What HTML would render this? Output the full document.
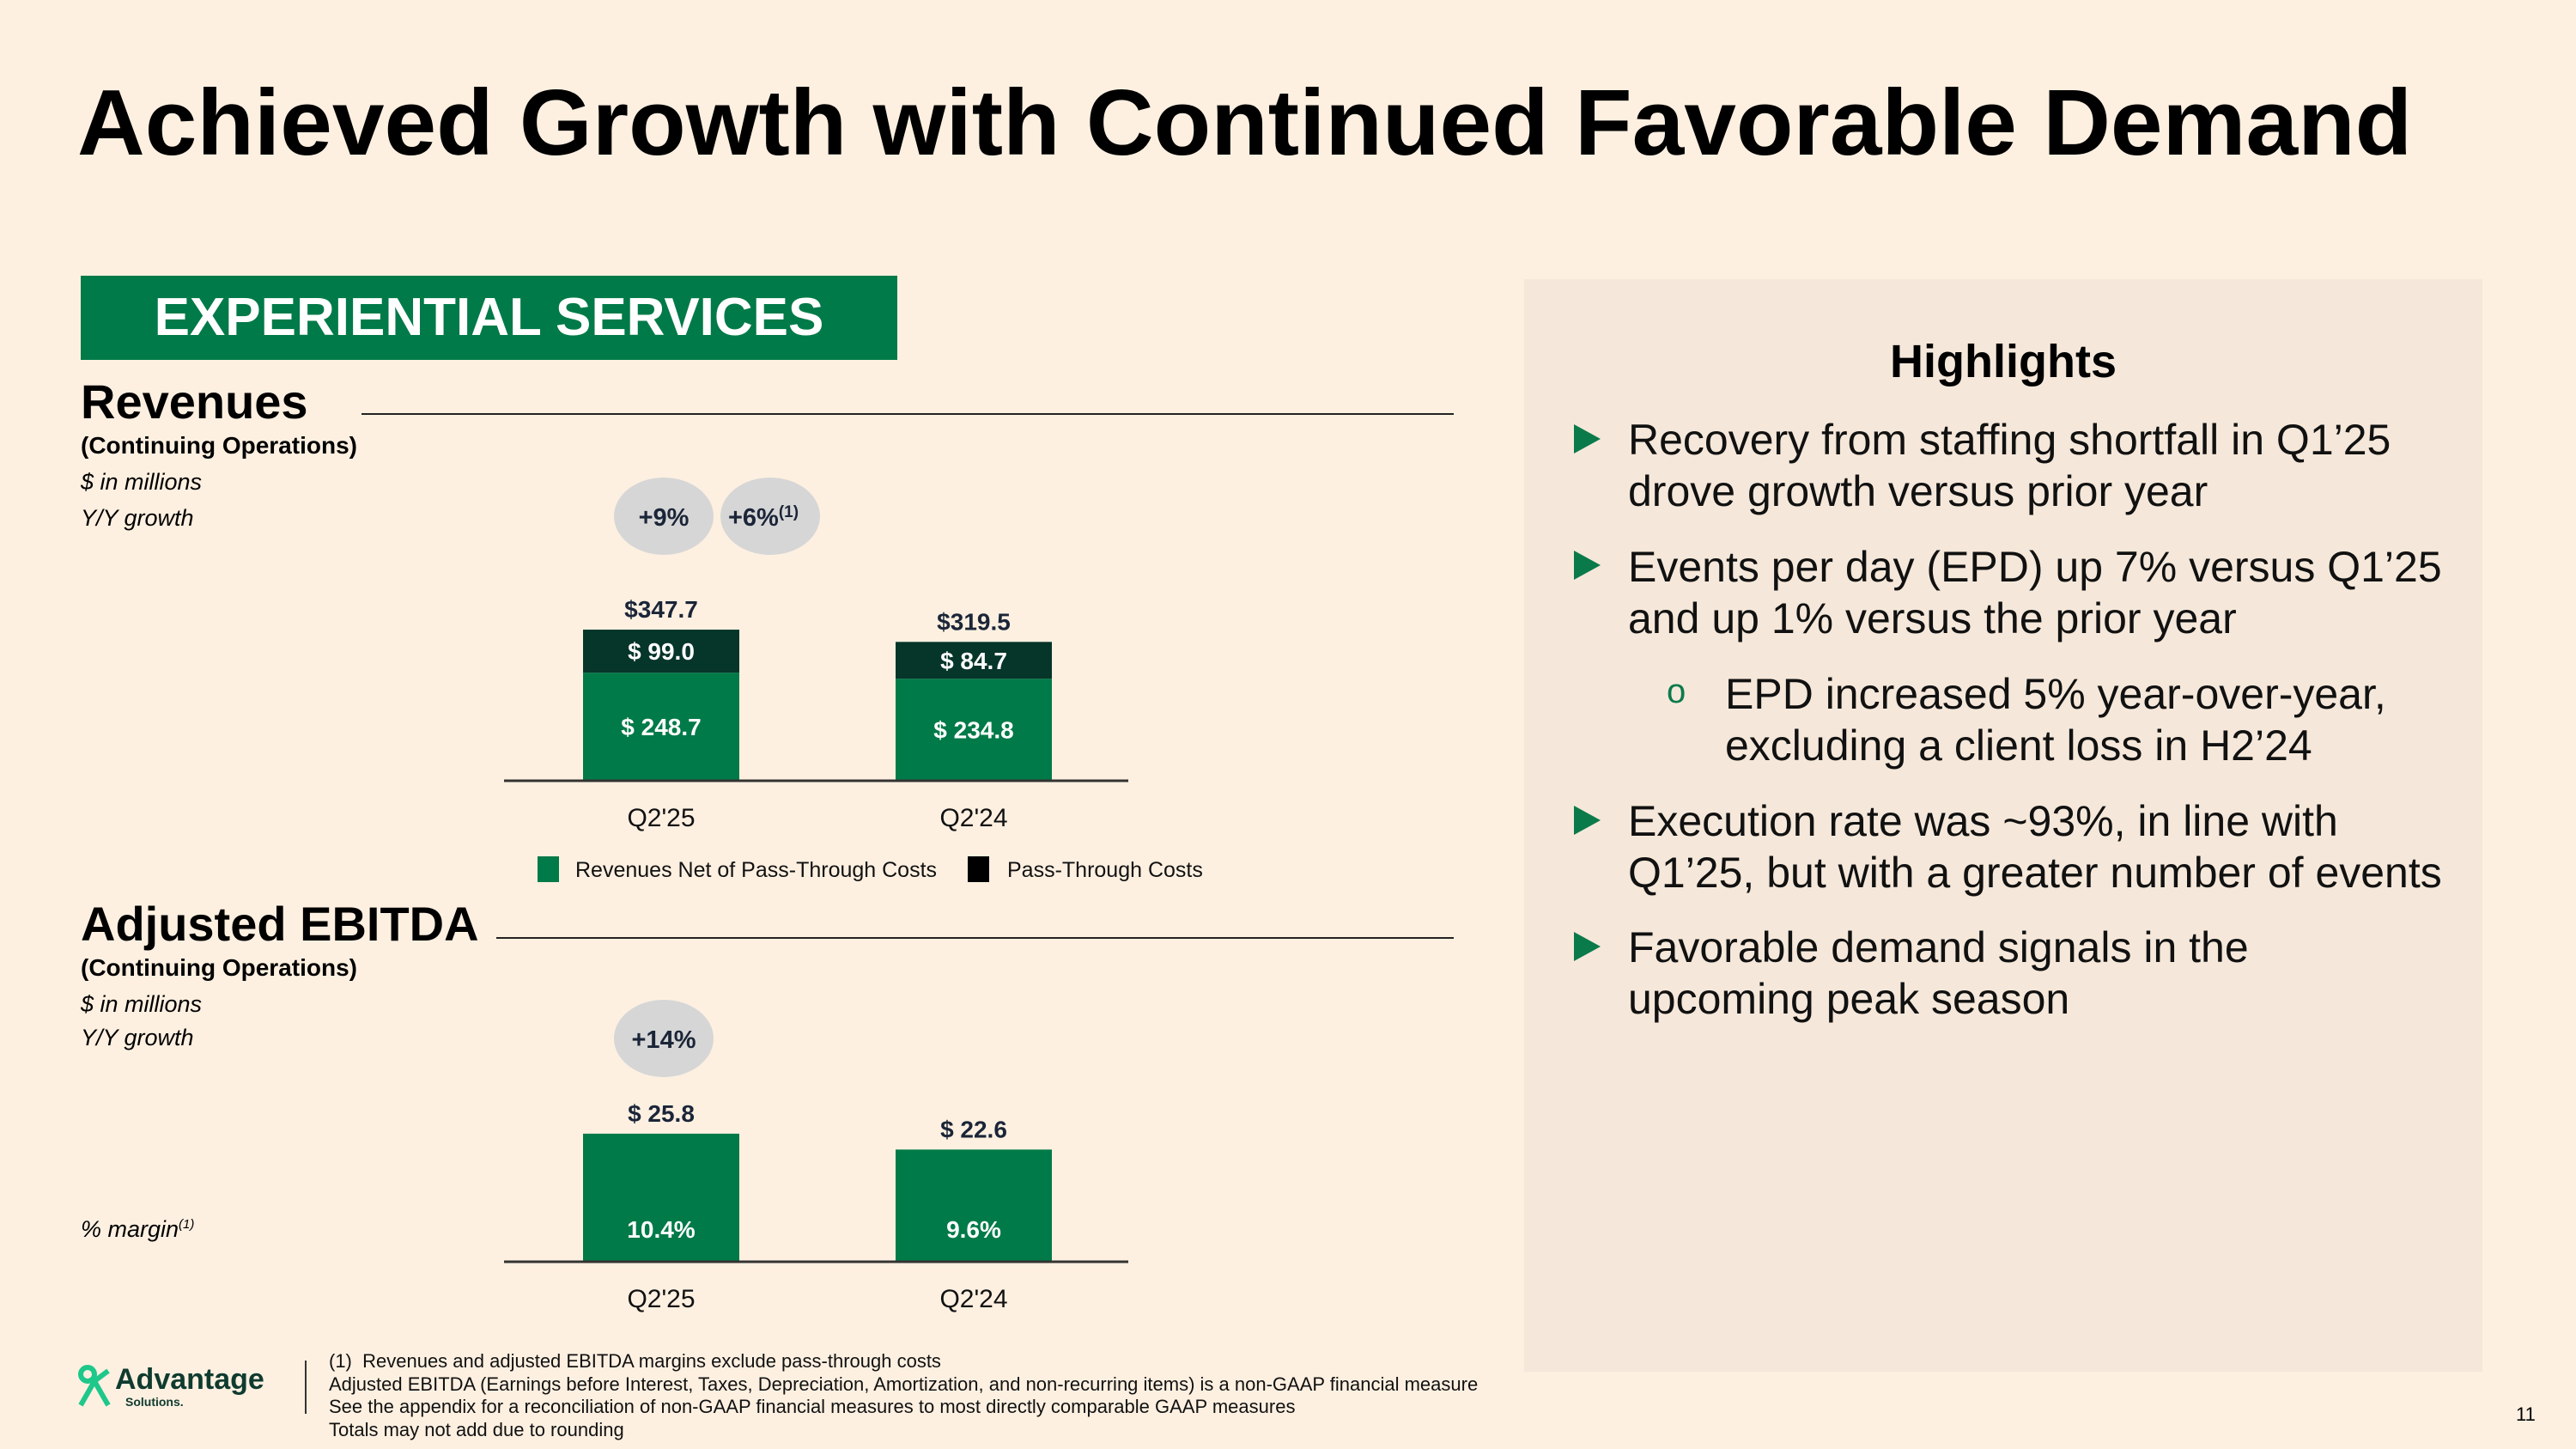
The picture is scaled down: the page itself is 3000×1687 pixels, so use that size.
<!DOCTYPE html>
<html><head><meta charset="utf-8"><style>
body{margin:0;width:3000px;height:1687px;background:#fdf0e1;font-family:"Liberation Sans",Arial,sans-serif;position:relative;overflow:hidden}
.a{position:absolute;white-space:nowrap}
.b{font-weight:bold}
.i{font-style:italic}
.hl{position:absolute;left:1896px;font-size:50px;color:#111;line-height:60px;white-space:nowrap}
.tri{position:absolute;left:1833px;width:0;height:0;border-top:17px solid transparent;border-bottom:17px solid transparent;border-left:31px solid #0b7a4b}
</style></head><body>
<div class="a b" style="left:90px;top:80px;font-size:109px;color:#000">Achieved Growth with Continued Favorable Demand</div>
<div class="a b" style="left:94px;top:321px;width:951px;height:98px;background:#007a48;color:#fff;font-size:62px;line-height:98px;text-align:center">EXPERIENTIAL SERVICES</div>

<div class="a" style="left:1775px;top:325px;width:1116px;height:1272px;background:#f5e8da"></div>
<div class="a b" style="left:1775px;width:1116px;text-align:center;top:390px;font-size:54px">Highlights</div>
<div class="tri" style="top:494px"></div><div class="hl" style="top:482px">Recovery from staffing shortfall in Q1’25<br>drove growth versus prior year</div>
<div class="tri" style="top:641px"></div><div class="hl" style="top:630px">Events per day (EPD) up 7% versus Q1’25<br>and up 1% versus the prior year</div>
<div class="a" style="left:1941px;top:783px;font-size:40px;color:#0b7a4b">o</div>
<div class="hl" style="left:2009px;top:778px">EPD increased 5% year-over-year,<br>excluding a client loss in H2’24</div>
<div class="tri" style="top:938px"></div><div class="hl" style="top:926px">Execution rate was ~93%, in line with<br>Q1’25, but with a greater number of events</div>
<div class="tri" style="top:1085px"></div><div class="hl" style="top:1073px">Favorable demand signals in the<br>upcoming peak season</div>

<div class="a b" style="left:94px;top:435px;font-size:56px">Revenues</div>
<div class="a" style="left:421px;top:481px;width:1272px;height:2px;background:#222"></div>
<div class="a b" style="left:94px;top:503px;font-size:28px">(Continuing Operations)</div>
<div class="a i" style="left:94px;top:546px;font-size:27px">$ in millions</div>
<div class="a i" style="left:94px;top:588px;font-size:27px">Y/Y growth</div>

<div class="a b" style="left:94px;top:1043px;font-size:56px">Adjusted EBITDA</div>
<div class="a" style="left:578px;top:1091px;width:1115px;height:2px;background:#222"></div>
<div class="a b" style="left:94px;top:1111px;font-size:28px">(Continuing Operations)</div>
<div class="a i" style="left:94px;top:1154px;font-size:27px">$ in millions</div>
<div class="a i" style="left:94px;top:1193px;font-size:27px">Y/Y growth</div>
<div class="a i" style="left:94px;top:1416px;font-size:27px">% margin<sup style="font-size:15px">(1)</sup></div>

<svg id="c" class="a" style="left:0;top:0" width="3000" height="1687" font-family="Liberation Sans, Arial, sans-serif"></svg>

<div class="a" style="left:90px;top:1588px">
<svg width="40" height="52"><circle cx="12" cy="12" r="8" fill="none" stroke="#1ec78a" stroke-width="6"/><path d="M4 48 L20 20 L36 48 M20 20 L36 8" stroke="#1ec78a" stroke-width="6" fill="none"/></svg></div>
<div class="a b" style="left:134px;top:1587px;font-size:34px;color:#0f3b2f">Advantage</div>
<div class="a b" style="left:146px;top:1624px;font-size:14px;color:#0f3b2f">Solutions.</div>
<div class="a" style="left:355px;top:1584px;width:2px;height:62px;background:#333"></div>
<div class="a" style="left:383px;top:1572px;font-size:22px;line-height:26.5px;color:#111">(1)&nbsp; Revenues and adjusted EBITDA margins exclude pass-through costs<br>Adjusted EBITDA (Earnings before Interest, Taxes, Depreciation, Amortization, and non-recurring items) is a non-GAAP financial measure<br>See the appendix for a reconciliation of non-GAAP financial measures to most directly comparable GAAP measures<br>Totals may not add due to rounding</div>
<div class="a" style="left:2930px;top:1634px;font-size:22px">11</div>

<script>
const categories=["Q2'25","Q2'24"];
const revNet=[248.7,234.8];
const revPass=[99.0,84.7];
const revTotal=[347.7,319.5];
const ebitda=[25.8,22.6];
const margins=["10.4%","9.6%"];
const revGrowth=["+9%","+6%"];
const ebitdaGrowth=["+14%"];
const NS="http://www.w3.org/2000/svg";
const svg=document.getElementById('c');
function el(t,a,txt){const e=document.createElementNS(NS,t);for(const k in a)e.setAttribute(k,a[k]);if(txt!==undefined)e.textContent=txt;svg.appendChild(e);return e;}
const barX=[679,1043],barW=182;
const rBase=909,rScale=0.506;
const ry=v=>rBase-v*rScale;
categories.forEach((c,i)=>{
  const cx=barX[i]+barW/2;
  let r=el('rect',{x:barX[i],y:ry(revNet[i]),width:barW,height:revNet[i]*rScale,fill:'#007a48'});
  
  
  let p=el('rect',{x:barX[i],y:ry(revNet[i]+revPass[i]),width:barW,height:revPass[i]*rScale,fill:'#06352a'});
  
  
  el('text',{x:cx,y:ry(revNet[i]/2)+10,'text-anchor':'middle','font-size':28,'font-weight':'bold',fill:'#fff'},'$ '+revNet[i].toFixed(1));
  el('text',{x:cx,y:ry(revNet[i]+revPass[i]/2)+10,'text-anchor':'middle','font-size':28,'font-weight':'bold',fill:'#fff'},'$ '+revPass[i].toFixed(1));
  el('text',{x:cx,y:ry(revTotal[i])-14,'text-anchor':'middle','font-size':28,'font-weight':'bold',fill:'#1b2538'},'$'+revTotal[i].toFixed(1));
  el('text',{x:cx,y:962,'text-anchor':'middle','font-size':30,fill:'#111'},c);
});
el('line',{x1:587,x2:1314,y1:rBase,y2:rBase,stroke:'#333','stroke-width':3});
[[773,revGrowth[0]],[897,revGrowth[1]]].forEach(([x,t],i)=>{
  el('ellipse',{cx:x,cy:601,rx:58,ry:45,fill:'#d6d6d6'});
  const tx=el('text',{x:x-(i?8:0),y:612,'text-anchor':'middle','font-size':29,'font-weight':'bold',fill:'#1b2538'},t);
  if(i){const s=document.createElementNS(NS,'tspan');s.setAttribute('font-size',19);s.setAttribute('dy',-10);s.textContent='(1)';tx.appendChild(s);}
});
el('rect',{x:626,y:997,width:25,height:30,fill:'#007a48'});
el('text',{x:670,y:1021,'font-size':25,fill:'#111'},'Revenues Net of Pass-Through Costs');
el('rect',{x:1127,y:997,width:25,height:30,fill:'#000'});
el('text',{x:1173,y:1021,'font-size':25,fill:'#111'},'Pass-Through Costs');
const eBase=1469,eScale=5.78;
const ey=v=>eBase-v*eScale;
categories.forEach((c,i)=>{
  const cx=barX[i]+barW/2;
  let r=el('rect',{x:barX[i],y:ey(ebitda[i]),width:barW,height:ebitda[i]*eScale,fill:'#007a48'});
  
  
  el('text',{x:cx,y:ey(ebitda[i])-14,'text-anchor':'middle','font-size':28,'font-weight':'bold',fill:'#1b2538'},'$ '+ebitda[i].toFixed(1));
  el('text',{x:cx,y:1441,'text-anchor':'middle','font-size':28,'font-weight':'bold',fill:'#fff'},margins[i]);
  el('text',{x:cx,y:1522,'text-anchor':'middle','font-size':30,fill:'#111'},c);
});
el('line',{x1:587,x2:1314,y1:eBase,y2:eBase,stroke:'#333','stroke-width':3});
el('ellipse',{cx:773,cy:1209,rx:58,ry:45,fill:'#d6d6d6'});
el('text',{x:773,y:1220,'text-anchor':'middle','font-size':29,'font-weight':'bold',fill:'#1b2538'},ebitdaGrowth[0]);
</script>
</body></html>
